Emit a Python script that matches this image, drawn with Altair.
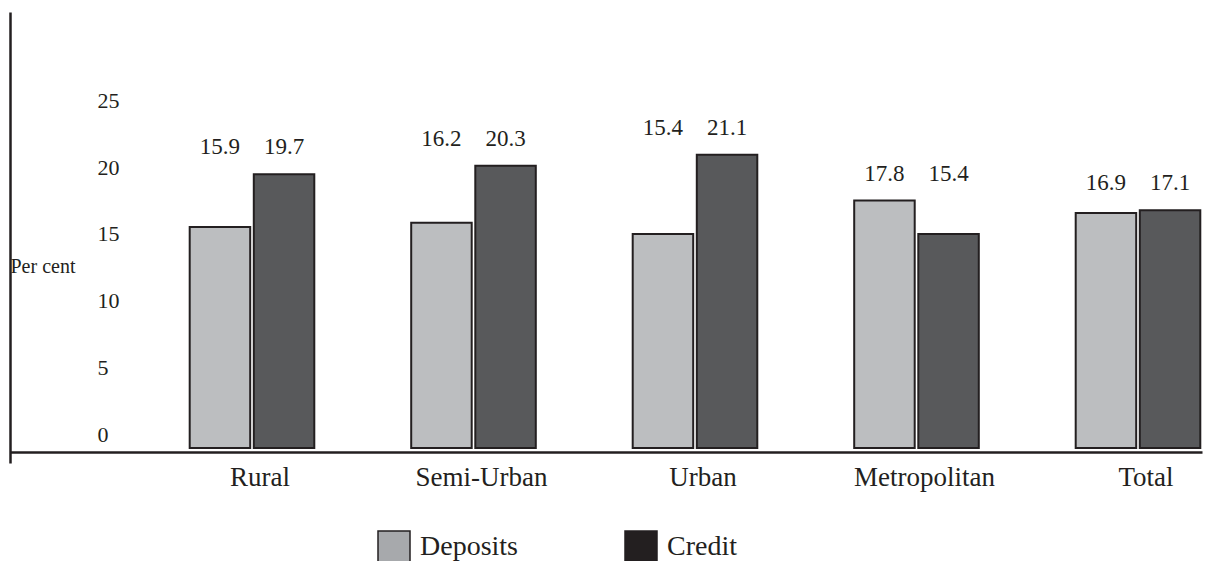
import altair as alt
import pandas as pd

categories = ["Rural", "Semi-Urban", "Urban", "Metropolitan", "Total"]
series = ["Deposits", "Credit"]
deposits = [15.9, 16.2, 15.4, 17.8, 16.9]
credit = [19.7, 20.3, 21.1, 15.4, 17.1]
y_ticks = [0, 5, 10, 15, 20, 25]

rows = []
for c, d, k in zip(categories, deposits, credit):
    rows.append({"Region": c, "Series": "Deposits", "Value": d})
    rows.append({"Region": c, "Series": "Credit", "Value": k})
df = pd.DataFrame(rows)

FONT = "Liberation Serif"
INK = "#231f20"

x_enc = alt.X(
    "Region:N", sort=categories,
    scale=alt.Scale(paddingInner=0.4375, paddingOuter=0.4095, align=0.9906),
    axis=alt.Axis(title=None, ticks=False, tickSize=0, grid=False,
                  domainColor=INK, domainWidth=2.5, offset=-11,
                  labelPadding=12, labelOffset=8, labelAngle=0,
                  labelFont=FONT, labelFontSize=27, labelColor=INK, labelLimit=0),
)
xo_enc = alt.XOffset("Series:N", sort=series, scale=alt.Scale(paddingInner=0.056))
y_scale = alt.Scale(domain=[-1.079, 31.37], nice=False, zero=False)
y_axis = alt.Axis(values=y_ticks, ticks=False, tickSize=0, grid=False,
                  domainColor=INK, domainWidth=2.5,
                  labelAlign="left", labelPadding=-87,
                  labelOffset=alt.ExprRef("-14 + datum.value * 0.56"),
                  labelBaseline="middle", labelFont=FONT, labelFontSize=22,
                  labelColor=INK,
                  title="Per cent", titleAngle=0, titleAlign="left",
                  titleBaseline="middle", titleX=0, titleY=254,
                  titleFont=FONT, titleFontSize=20, titleFontWeight="normal",
                  titleColor=INK)

base = alt.Chart(df)

bars = base.mark_bar(stroke=INK, strokeWidth=2).encode(
    x=x_enc,
    xOffset=xo_enc,
    y=alt.Y("Value:Q", scale=y_scale, axis=y_axis),
    y2=alt.datum(0),
    fill=alt.Fill("Series:N", sort=series,
                  scale=alt.Scale(domain=series, range=["#bcbec0", "#58595b"]),
                  legend=None),
)

labels = base.transform_joinaggregate(
    gmax="max(Value)", groupby=["Region"]
).mark_text(dy=-27, fontSize=23, font=FONT, color=INK, baseline="middle").encode(
    x=x_enc,
    xOffset=xo_enc,
    y=alt.Y("gmax:Q", scale=y_scale, axis=y_axis),
    text=alt.Text("Value:Q", format=".1f"),
)

legend_layer = base.transform_calculate(Key="datum.Series").mark_point(
    shape="square", filled=True, opacity=0, size=1024
).encode(
    x=x_enc,
    xOffset=xo_enc,
    y=alt.Y("Value:Q", scale=y_scale, axis=y_axis),
    color=alt.Color("Key:N", sort=series,
                    scale=alt.Scale(domain=series, range=["#a7a9ac", "#231f20"]),
                    legend=alt.Legend(title=None, orient="none", legendX=367, legendY=518,
                                      direction="horizontal", symbolType="square",
                                      symbolSize=1024, symbolOpacity=1,
                                      symbolStrokeColor=INK, symbolStrokeWidth=1.5,
                                      labelFont=FONT, labelFontSize=28, labelColor=INK,
                                      labelOffset=9, columnPadding=104, padding=0,
                                      labelLimit=0)),
)

chart = alt.layer(bars, labels, legend_layer).resolve_legend(
    color="independent", fill="independent"
).properties(
    width=1192, height=451, autosize="none",
    padding={"left": 2, "top": 4, "right": 2, "bottom": 98},
).configure_view(strokeWidth=0)

chart.save("out.html", embed_options={"renderer": "svg", "actions": False})
